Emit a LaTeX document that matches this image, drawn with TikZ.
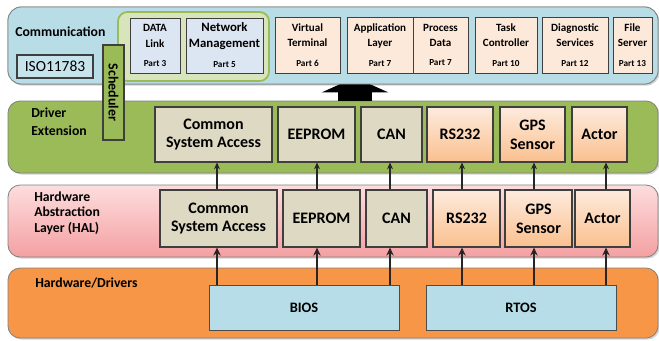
\documentclass[tikz,border=0pt]{standalone}
\usepackage{fontspec}
\setmainfont{Carlito}
\usetikzlibrary{shadows,arrows.meta}

\definecolor{commblue}{HTML}{B9DDE7}
\definecolor{grpgreen}{HTML}{D8E4BC}
\definecolor{grpedge}{HTML}{9BBB59}
\definecolor{lavbox}{HTML}{DCE6F2}
\definecolor{peach}{HTML}{FDE9D9}
\definecolor{drvgreen}{HTML}{9BBB59}
\definecolor{greybox}{HTML}{DDD9C3}
\definecolor{orgtop}{HTML}{FDEBDD}
\definecolor{orgbot}{HTML}{FAC08F}
\definecolor{haltop}{HTML}{FDDDDD}
\definecolor{halbot}{HTML}{F4A0A2}
\definecolor{hworange}{HTML}{F79646}
\definecolor{hwblue}{HTML}{B7DDE8}
\definecolor{edge}{HTML}{3F3F3F}

% small font for the "Part N" lines
\newcommand\partfont{\bfseries\fontsize{6.9}{8}\selectfont}

\tikzset{
  % a rectangle node spanning the pixel box (x1,y1)-(x2,y2)
  spans/.style n args={4}{minimum width={(#3-#1)*0.75pt}, minimum height={(#4-#2)*0.75pt},
    at={({(#1+#3)/2},{(#2+#4)/2})}},
  layer/.style={draw=black!50, line width=0.6pt, rounded corners=9pt, inner sep=0pt,
    drop shadow={shadow xshift=1.2pt, shadow yshift=-1.2pt, opacity=.35}},
  lbl/.style={inner sep=0pt, font=\bfseries\fontsize{10.3}{13.5}\selectfont, align=left},
  box/.style={draw=edge, line width=0.8pt, inner sep=0pt, align=center,
    font=\bfseries\fontsize{12}{14}\selectfont},
  graybox/.style={box, fill=greybox},
  orangebox/.style={box, top color=orgtop, bottom color=orgbot},
  commbox/.style={draw=edge, line width=0.6pt, fill=peach, inner sep=0pt, align=center,
    font=\bfseries\fontsize{8.3}{11.5}\selectfont},
  thinarrow/.style={line width=1pt, draw=black!85, -{Stealth[length=5pt,width=4.5pt]}},
  thickarrow/.style={line width=1.7pt, draw=black!85, -{Stealth[length=6pt,width=5.5pt]}},
}

\begin{document}
\begin{tikzpicture}[x=0.75pt,y=-0.75pt]
\useasboundingbox (0,0) rectangle (659,340);

% --- Hardware / Drivers layer
\node[layer, fill=hworange, spans={8}{268}{658}{338}] (hw) {};
\node[lbl, anchor=west] (hwlbl) at (35,283) {Hardware/Drivers};
\node[box, fill=hwblue, draw=black!70, line width=0.7pt,
      font=\bfseries\fontsize{10.8}{12}\selectfont, spans={209}{285}{399}{330}] (bios) {BIOS};
\node[box, fill=hwblue, draw=black!70, line width=0.7pt,
      font=\bfseries\fontsize{10.8}{12}\selectfont, spans={426}{285}{616}{330}] (rtos) {RTOS};

% --- Hardware abstraction layer
\node[layer, top color=haltop, bottom color=halbot, spans={8}{185}{658}{257}] (hal) {};
\node[lbl, anchor=west, font=\bfseries\fontsize{10.3}{11.8}\selectfont] (hallbl) at (34,213)
  {Hardware\\Abstraction\\Layer (HAL)};
\node[graybox,   spans={160}{190}{277}{247}] (hcsa) {Common\\System Access};
\node[graybox,   spans={283}{190}{360}{247}] (heep) {EEPROM};
\node[graybox,   spans={366}{190}{427}{247}] (hcan) {CAN};
\node[orangebox, spans={433}{190}{500}{247}] (hrs)  {RS232};
\node[orangebox, spans={505}{190}{572}{247}] (hgps) {GPS\\Sensor};
\node[orangebox, spans={575}{190}{630}{247}] (hact) {Actor};

% --- Driver extension layer
\node[layer, fill=drvgreen, spans={8}{101}{658}{173}] (drv) {};
\node[lbl, anchor=west] (drvlbl) at (31,122) {Driver\\Extension};
\node[graybox,   spans={155}{107}{272}{162}] (dcsa) {Common\\System Access};
\node[graybox,   spans={278}{107}{355}{162}] (deep) {EEPROM};
\node[graybox,   spans={361}{107}{422}{162}] (dcan) {CAN};
\node[orangebox, spans={427}{107}{493}{162}] (drs)  {RS232};
\node[orangebox, spans={500}{107}{565}{162}] (dgps) {GPS\\Sensor};
\node[orangebox, spans={572}{107}{627}{162}] (dact) {Actor};

% --- Communication layer
\node[layer, fill=commblue, rounded corners=10pt, spans={8}{7}{658}{84}] (comm) {};

% block arrow from the drivers up into the communication layer
\draw[line width=25.5pt, draw=black, -{Triangle[length=11.25pt,width=49.5pt]}]
  (drv.north -| 355,0) -- ([yshift=5.25pt]comm.south -| 355,0);
% repaint the layer so it covers the tip of the block arrow
\node[draw=black!50, line width=0.6pt, fill=commblue, rounded corners=10pt, inner sep=0pt,
      spans={8}{7}{658}{84}] (commface) {};

\node[lbl, anchor=west] (commlbl) at (15,32) {Communication};
\node[draw=edge, line width=0.8pt, fill=commblue!80!white, inner sep=0pt,
      font=\fontsize{11.6}{14}\selectfont, spans={17}{55}{93}{78}] (iso) {ISO11783};

\node[draw=grpedge, line width=1.3pt, fill=grpgreen, rounded corners=7pt, inner sep=0pt,
      spans={118}{12}{269}{81}] (grp) {};
\node[commbox, fill=lavbox, spans={130}{18}{180}{73}] (dl)
  {DATA\\Link\\[3pt]{\partfont Part 3}};
\node[commbox, fill=lavbox, font=\bfseries\fontsize{9.6}{12}\selectfont, spans={186}{18}{263}{73}] (nm)
  {Network\\Management\\[3pt]{\partfont Part 5}};
\node[commbox, spans={275}{17}{340}{73}] (vt) {Virtual\\Terminal\\[3pt]{\partfont Part 6}};
\node[commbox, spans={347}{17}{413}{73}] (al) {Application\\Layer\\[3pt]{\partfont Part 7}};
\node[commbox, spans={413}{17}{468}{73}] (pd) {Process\\Data\\[3pt]{\partfont Part 7}};
\node[commbox, spans={475}{17}{537}{73}] (tc) {Task\\Controller\\[3pt]{\partfont Part 10}};
\node[commbox, spans={542}{17}{608}{73}] (ds) {Diagnostic\\Services\\[3pt]{\partfont Part 12}};
\node[commbox, spans={613}{17}{652}{73}] (fs) {File\\Server\\[3pt]{\partfont Part 13}};

% --- Scheduler spanning communication and driver layers
\node[draw=edge, line width=0.8pt, fill=drvgreen, inner sep=0pt, spans={103}{45}{124}{140}] (sched) {};
\node[rotate=-90, font=\bfseries\fontsize{10.5}{12}\selectfont] (schedlbl) at (sched.center) {Scheduler};

% --- HAL -> driver extension
\foreach \src/\dst/\xx in {hcsa/dcsa/217, heep/deep/317, hcan/dcan/390,
                           hrs/drs/462, hgps/dgps/534, hact/dact/606}
  \draw[thinarrow] (\src.north -| \xx,0) -- (\dst.south -| \xx,0);

% --- hardware -> HAL
\foreach \src/\dst/\xx in {bios/hcsa/217, bios/heep/317, bios/hcan/390,
                           rtos/hrs/462, rtos/hgps/534, rtos/hact/606}
  \draw[thickarrow] (\src.north -| \xx,0) -- (\dst.south -| \xx,0);
\end{tikzpicture}
\end{document}
